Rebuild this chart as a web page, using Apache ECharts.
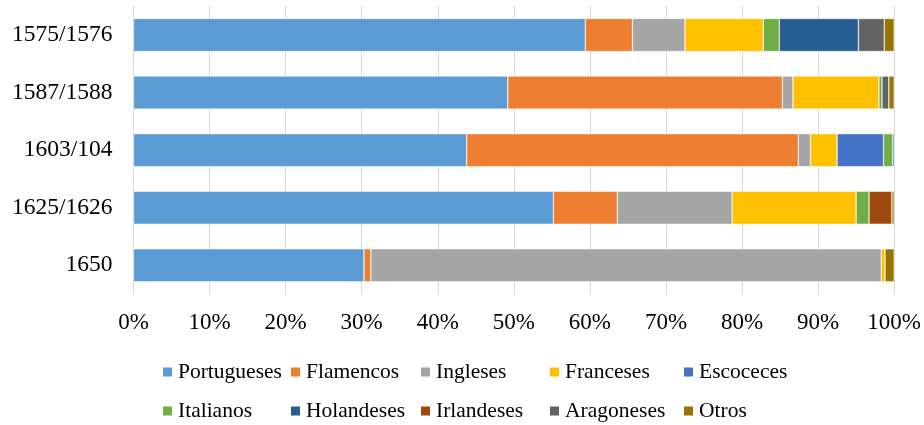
<!DOCTYPE html>
<html>
<head>
<meta charset="utf-8">
<script src="https://cdn.jsdelivr.net/npm/echarts@6/dist/echarts.min.js"></script>
<style>
  html, body { margin: 0; padding: 0; background: #fff; }
  #chart { width: 924px; height: 425px; }
</style>
</head>
<body>
<div id="chart"></div>
<script>
// Periods (top to bottom)
const periods = ['1575/1576', '1587/1588', '1603/104', '1625/1626', '1650'];

// Share of each group per period, in percent
const portugueses = [59.4, 49.2, 43.8, 55.2, 30.3];
const flamencos   = [6.2, 36.1, 43.6, 8.4, 0.9];
const ingleses    = [6.9, 1.4, 1.6, 15.1, 67.1];
const franceses   = [10.3, 11.3, 3.5, 16.3, 0.5];
const escoceces   = [0, 0, 6.1, 0, 0];
const italianos   = [2.1, 0.4, 1.2, 1.7, 0];
const holandeses  = [10.4, 0, 0.2, 0, 0];
const irlandeses  = [0, 0, 0, 3.0, 0];
const aragoneses  = [3.4, 0.9, 0, 0, 0];
const otros       = [1.3, 0.7, 0, 0.3, 1.2];

const groupNames = ['Portugueses', 'Flamencos', 'Ingleses', 'Franceses', 'Escoceces',
                    'Italianos', 'Holandeses', 'Irlandeses', 'Aragoneses', 'Otros'];
const groupValues = [portugueses, flamencos, ingleses, franceses, escoceces,
                     italianos, holandeses, irlandeses, aragoneses, otros];

// Axis tick values
const xTicks = [0, 10, 20, 30, 40, 50, 60, 70, 80, 90, 100];

const palette = ['#5B9BD5', '#ED7D31', '#A5A5A5', '#FFC000', '#4472C4',
                 '#70AD47', '#255E91', '#9E480E', '#636363', '#997300'];

const FONT = '"Liberation Serif", "Times New Roman", serif';

const series = groupNames.map((name, i) => ({
  name: name,
  type: 'bar',
  stack: 'total',
  barWidth: 33,
  itemStyle: { color: palette[i], borderColor: '#ffffff', borderWidth: 0.5 },
  data: groupValues[i].map(v => (v === 0 ? '-' : v))
}));

// Legend laid out as a 5 x 2 grid, one legend component per entry
const legendCols = [161, 289, 419, 548, 682];
const legendRows = [360, 399];
const legends = groupNames.map((name, i) => ({
  data: [name],
  left: legendCols[i % 5],
  top: legendRows[Math.floor(i / 5)],
  padding: 0,
  itemWidth: 11,
  itemHeight: 11,
  icon: 'rect',
  selectedMode: false,
  textStyle: { fontFamily: FONT, fontSize: 21.5, color: '#000', lineHeight: 24 }
}));

const chart = echarts.init(document.getElementById('chart'), null, { renderer: 'canvas' });
chart.setOption({
  animation: false,
  color: palette,
  grid: { left: 133.5, right: 28.5, top: 6.2, bottom: 130.9, containLabel: false },
  legend: legends,
  xAxis: {
    type: 'value',
    min: xTicks[0],
    max: xTicks[xTicks.length - 1],
    interval: xTicks[1] - xTicks[0],
    axisLine: { show: false },
    axisTick: { show: false },
    splitLine: { show: true, lineStyle: { color: '#D9D9D9', width: 1 } },
    axisLabel: {
      formatter: '{value}%',
      fontFamily: FONT,
      fontSize: 23,
      color: '#000',
      margin: 17
    }
  },
  yAxis: {
    type: 'category',
    inverse: true,
    data: periods,
    axisLine: { show: false },
    axisTick: { show: false },
    splitLine: { show: false },
    axisLabel: { fontFamily: FONT, fontSize: 23.5, color: '#000', margin: 21 }
  },
  series: series
});
</script>
</body>
</html>
